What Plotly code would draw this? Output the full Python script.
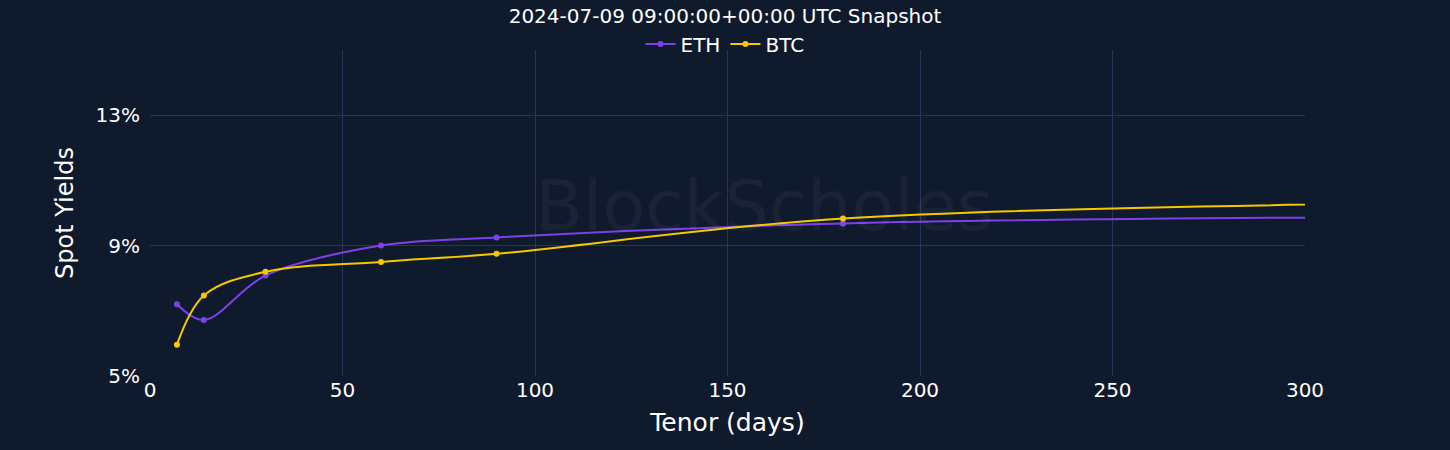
import plotly.graph_objects as go

tenor_days = [7, 14, 30, 60, 90, 180, 365]
eth_yield = [7.2, 6.72, 8.08, 9.0, 9.25, 9.68, 9.9]
btc_yield = [5.96, 7.47, 8.2, 8.5, 8.75, 9.83, 10.35]

BG = "#101a2d"
fig = go.Figure()
fig.add_trace(go.Scatter(x=tenor_days, y=eth_yield, name="ETH", mode="lines+markers",
                         line=dict(color="#7b42e8", width=2, shape="spline"),
                         marker=dict(size=6, color="#7b42e8")))
fig.add_trace(go.Scatter(x=tenor_days, y=btc_yield, name="BTC", mode="lines+markers",
                         line=dict(color="#f5c800", width=2, shape="spline"),
                         marker=dict(size=6, color="#f5c800")))

fig.add_annotation(text="BlockScholes", x=0.532, y=0.52, xref="paper", yref="paper",
                   showarrow=False, font=dict(size=70, color="rgba(255,255,255,0.045)", family="DejaVu Sans"))

fig.update_layout(
    width=1450, height=450,
    paper_bgcolor=BG, plot_bgcolor=BG,
    font=dict(family="DejaVu Sans", color="white", size=20),
    title=dict(text="2024-07-09 09:00:00+00:00 UTC Snapshot", x=0.5, xanchor="center",
               y=1 - 16 / 450, yanchor="middle", font=dict(size=20, color="white")),
    legend=dict(orientation="h", x=0.5, xanchor="center", xref="container",
                y=1 - 44 / 450, yanchor="middle", yref="container",
                font=dict(size=20), bgcolor="rgba(0,0,0,0)"),
    margin=dict(l=150, r=145, t=50, b=74, autoexpand=False),
    showlegend=True,
)
fig.update_xaxes(range=[0, 300], dtick=50, showgrid=True, gridcolor="#283458", zeroline=False,
                 title=dict(text="Tenor (days)", font=dict(size=25), standoff=12), tickfont=dict(size=20),
                 showline=False)
fig.update_yaxes(range=[5, 15], tickvals=[5, 9, 13], ticktext=["5%", "9%", "13%"], showgrid=True,
                 gridcolor="#283458", zeroline=False,
                 title=dict(text="Spot Yields", font=dict(size=24)),
                 tickfont=dict(size=20), ticks="outside", ticklen=5, tickcolor=BG)

fig.write_html("out.html", config={"displayModeBar": False},
               post_script="document.body.style.margin='0';")
